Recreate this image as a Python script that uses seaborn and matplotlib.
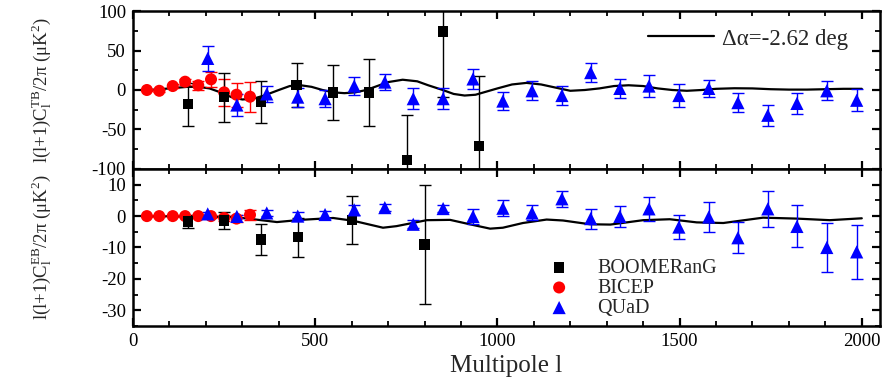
import numpy as np
import pandas as pd
import matplotlib
matplotlib.use("Agg")
import matplotlib.pyplot as plt
from matplotlib.ticker import MultipleLocator
import seaborn as sns

# ---------------- data ----------------
# TB panel
boom_l = [151, 250, 351, 449, 549, 648, 751, 850, 949]
boom_tb = [-18, -9, -15, 6, -3, -3, -89, 74, -71]
boom_tb_err = [27, 31, 27, 28, 35, 42, 57, 83, 89]

bicep_l = [38, 72, 109, 143, 179, 214, 250, 284, 321]
bicep_tb = [0, -1, 5, 10.5, 6, 13.5, -3, -6, -8.5]
bicep_tb_err = [1, 1, 2, 4, 6, 9.5, 17, 15, 19]

quad_l = [205, 285, 367, 452, 527, 607, 691, 769, 851, 933, 1015, 1095, 1177,
          1256, 1336, 1416, 1498, 1580, 1660, 1742, 1822, 1904, 1986]
quad_tb = [40, -19, -5, -9, -11, 5, 10, -11, -11, 14, -14, -1, -7,
           22, 2, 5, -7, 2, -16, -32, -17, -1, -13]
quad_tb_err = [16, 14, 10, 12, 11, 11, 10, 13, 13, 13, 11, 12, 12,
               12, 12, 14, 14, 11, 12, 13, 13, 12, 14]

theory_tb_l = [30, 60, 100, 150, 180, 210, 240, 270, 300, 330, 360, 400, 430, 460,
               490, 520, 550, 580, 610, 640, 670, 700, 740, 780, 810, 850, 880,
               910, 940, 970, 1000, 1040, 1080, 1120, 1160, 1200, 1240, 1280,
               1320, 1360, 1400, 1440, 1480, 1520, 1560, 1600, 1650, 1700, 1750,
               1800, 1850, 1900, 1950, 2000]
theory_tb = [0, 0.5, 2, 4, 4, 2, -3, -9, -12, -11, -7, 0, 5, 6,
             4, 0, -3, -4, -3, 0, 5, 10, 13, 11, 6, 0, -5,
             -7, -6, -2, 2, 7, 9, 7, 3, -1, 0, 2,
             5, 6, 5, 2, 0, -1, 0, 1.5, 2.2, 2, 1,
             0.5, 0.5, 1, 1.5, 1.5]

# EB panel
boom_eb = [-1.7, -1.4, -7.5, -6.7, -1.2, -9]
boom_eb_l = [151, 250, 351, 452, 600, 800]
boom_eb_err = [2, 2.8, 5, 6.2, 7.7, 19]

bicep_eb = [0, 0, 0, 0, 0, 0, -0.6, -0.8, 0.4]
bicep_eb_err = [0.3, 0.3, 0.3, 0.4, 0.4, 0.5, 1, 1, 1.5]

quad_eb = [0.7, -0.1, 1, 0, 0.5, 2, 2.7, -2.6, 2.4, -0.1, 2.5, 1, 5.5,
           -0.8, -0.1, 2.3, -3.5, -0.3, -6.9, 2.3, -3.3, -10, -11.4]
quad_eb_err = [0.6, 0.6, 1, 1.3, 1, 1.5, 1, 1.3, 1, 2.3, 2.5, 2.4, 2.5,
               3.2, 3.4, 3.9, 3.8, 4.7, 5, 5.8, 6.7, 7.7, 8.5]

theory_eb_l = [30, 150, 275, 330, 395, 460, 549, 605, 686, 723, 806, 870, 924,
               980, 1015, 1070, 1135, 1180, 1254, 1310, 1400, 1473, 1547, 1620,
               1729, 1822, 1912, 2000]
theory_eb = [0, -0.1, -0.3, -1.0, -1.9, -1.2, -0.6, -1.5, -3.7, -3.2, -1.3, -1.2,
             -2.6, -4, -3.7, -2.2, -1.1, -1.4, -2.6, -2.7, -1.3, -1.0, -2.0, -2.2,
             -0.5, -0.8, -1.3, -0.7]

legend_names = ["BOOMERanG", "BICEP", "QUaD"]
theory_label = "Δα=-2.62 deg"

# ---------------- style ----------------
sns.set_theme(style="ticks")
plt.rcParams["font.family"] = ["Liberation Serif", "DejaVu Serif"]
plt.rcParams["mathtext.fontset"] = "custom"
plt.rcParams["mathtext.rm"] = "Liberation Serif"
plt.rcParams["mathtext.it"] = "Liberation Serif:italic"
plt.rcParams["axes.unicode_minus"] = False

fig = plt.figure(figsize=(8.88, 3.82), dpi=100)
ax1 = fig.add_axes([0.1498, 0.5576, 0.8412, 0.4136])
ax2 = fig.add_axes([0.1498, 0.1466, 0.8412, 0.4110])

colors = {"BOOMERanG": "black", "BICEP": "#ff0000", "QUaD": "#0000ff"}
markers = {"BOOMERanG": "s", "BICEP": "o", "QUaD": "^"}
msize = {"BOOMERanG": 55, "BICEP": 75, "QUaD": 90}


def draw_panel(ax, sets, th_l, th_v, label_line):
    sns.lineplot(x=th_l, y=th_v, ax=ax, color="black", lw=1.6,
                 label=label_line, zorder=2)
    for name, ls, vs, es in sets:
        ax.errorbar(ls, vs, yerr=es, fmt="none", ecolor=colors[name],
                    elinewidth=1.0, capsize=4.5, capthick=1.0, zorder=3)
        df = pd.DataFrame({"l": ls, "v": vs})
        sns.scatterplot(data=df, x="l", y="v", ax=ax, color=colors[name],
                        marker=markers[name], s=msize[name], edgecolor="none",
                        label=name, zorder=4)


draw_panel(ax1,
           [("BICEP", bicep_l, bicep_tb, bicep_tb_err),
            ("BOOMERanG", boom_l, boom_tb, boom_tb_err),
            ("QUaD", quad_l, quad_tb, quad_tb_err)],
           theory_tb_l, theory_tb, theory_label)
draw_panel(ax2,
           [("BICEP", bicep_l, bicep_eb, bicep_eb_err),
            ("BOOMERanG", boom_eb_l, boom_eb, boom_eb_err),
            ("QUaD", quad_l, quad_eb, quad_eb_err)],
           theory_eb_l, theory_eb, None)

for ax in (ax1, ax2):
    ax.set_xlim(0, 2050)
    ax.xaxis.set_major_locator(MultipleLocator(500))
    ax.xaxis.set_minor_locator(MultipleLocator(100))
    ax.tick_params(which="both", direction="in", top=True, right=True,
                   labelsize=13.5, colors="black", pad=5)
    ax.tick_params(which="major", length=6, width=1.6)
    ax.tick_params(which="minor", length=3.5, width=1.3)
    for sp in ax.spines.values():
        sp.set_linewidth(1.8)
        sp.set_color("black")
    ax.set_xlabel("")

ax1.set_ylim(-100, 100)
ax1.yaxis.set_major_locator(MultipleLocator(50))
ax1.yaxis.set_minor_locator(MultipleLocator(25))
ax1.tick_params(labelbottom=False)
ax1.set_yticks([-100, -50, 0, 50, 100])
ax1.set_yticklabels(["-100", "-50", "0", "50", "100"])

ax2.set_ylim(-35, 15)
ax2.set_yticks([-30, -20, -10, 0, 10])
ax2.set_yticklabels(["-30", "-20", "-10", "0", "10"])
ax2.yaxis.set_minor_locator(MultipleLocator(5))
ax2.set_xticks([0, 500, 1000, 1500, 2000])
ax2.set_xticklabels(["0", "500", "1000", "1500", "2000"])

ax1.set_ylabel(r"l(l+1)C$_\mathrm{l}^\mathrm{TB}$/2π (μK$^2$)", fontsize=13.5)
ax2.set_ylabel(r"l(l+1)C$_\mathrm{l}^\mathrm{EB}$/2π (μK$^2$)", fontsize=13.5)
ax1.yaxis.set_label_coords(-0.106, 0.5)
ax2.yaxis.set_label_coords(-0.106, 0.5)
ax2.set_xlabel("Multipole l", fontsize=18, labelpad=4)

# top legend: theory line only
h1, l1 = ax1.get_legend_handles_labels()
idx = l1.index(theory_label)
ax1.legend([h1[idx]], [theory_label], loc="upper right", frameon=False,
           fontsize=16.5, handlelength=2.9, handletextpad=0.35,
           bbox_to_anchor=(0.985, 1.02))

# bottom legend: data sets only
h2, l2 = ax2.get_legend_handles_labels()
hs = [h2[l2.index(n)] for n in legend_names]
ax2.legend(hs, legend_names, loc="upper left", frameon=False, fontsize=14.5,
           bbox_to_anchor=(0.53, 0.545), handletextpad=1.3, labelspacing=0.05,
           handlelength=1.2)

fig.savefig("out.png", dpi=100)
